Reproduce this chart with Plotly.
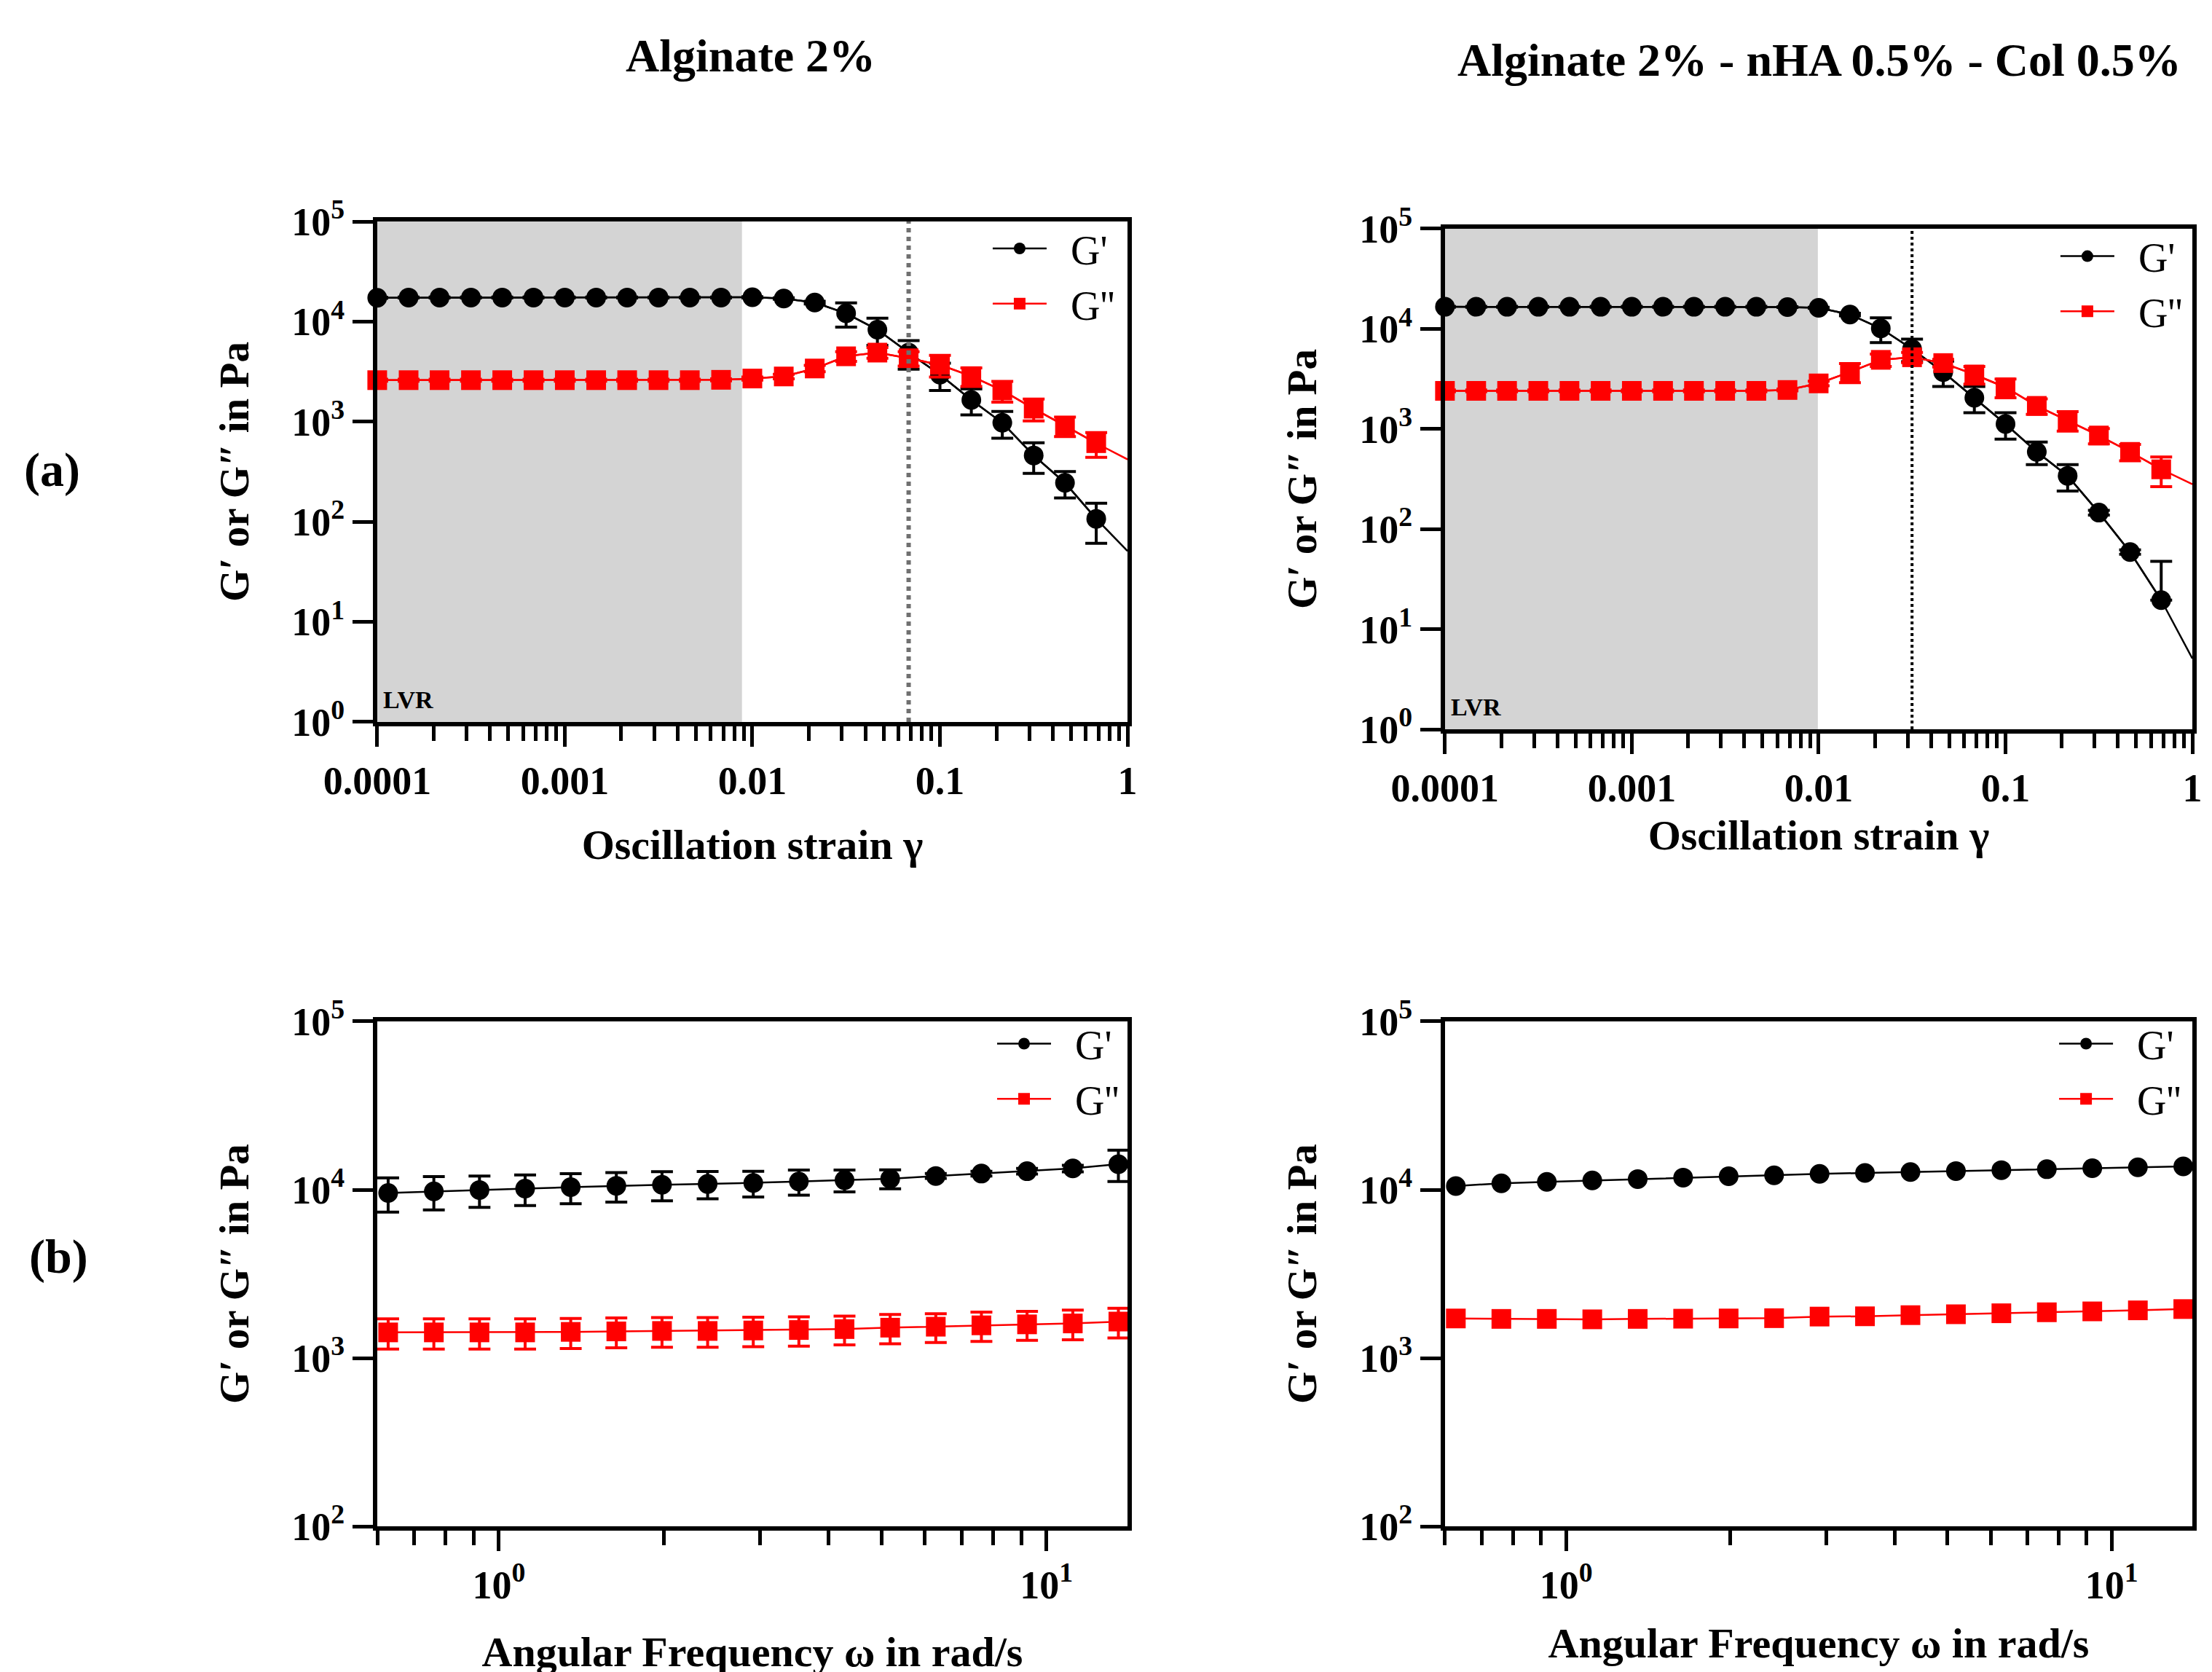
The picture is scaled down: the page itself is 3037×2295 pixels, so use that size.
import plotly.graph_objects as go

# ==================================================
# Data
# ==================================================

# amplitude sweep
strain = [0.0001, 0.000147, 0.000215, 0.000316, 0.000464, 0.000681,
          0.001, 0.00147, 0.00215, 0.00316, 0.00464, 0.00681,
          0.01, 0.0147, 0.0215, 0.0316, 0.0464, 0.0681,
          0.1, 0.147, 0.215, 0.316, 0.464, 0.681]
strain_end = 1.0

# Alginate 2%
alg_gp = [17300, 17400, 17400, 17400, 17400, 17400, 17400, 17400, 17400, 17400, 17400, 17400,
          17500, 17000, 15500, 12100, 8300, 4900, 2950, 1650, 975, 460, 245, 107]
alg_gp_err = [200, 200, 200, 200, 200, 200, 200, 200, 200, 200, 200, 200,
              250, 300, 500, 3300, 2500, 1550, 900, 480, 290, 155, 72, 46]
alg_gp_end = 51
alg_gpp = [2600, 2600, 2600, 2600, 2600, 2600, 2600, 2600, 2600, 2600, 2600, 2620,
           2700, 2830, 3400, 4500, 4900, 4300, 3700, 2850, 2050, 1350, 910, 610]
alg_gpp_err = [60, 60, 60, 60, 60, 60, 60, 60, 60, 60, 60, 60,
               100, 150, 250, 500, 600, 700, 900, 600, 480, 330, 200, 170]
alg_gpp_end = 420
alg_lvr_end = 0.0088
alg_crossover = 0.0681

# Alginate 2% - nHA 0.5% - Col 0.5%
comp_gp = [16600, 16600, 16600, 16600, 16600, 16600, 16600, 16600, 16600, 16600, 16600, 16500,
           16200, 13900, 10100, 6300, 3700, 2050, 1120, 590, 340, 146, 59, 19.5]
comp_gp_err_up = [150, 150, 150, 150, 150, 150, 150, 150, 150, 150, 150, 150,
                  200, 400, 2800, 1600, 1050, 600, 330, 150, 100, 8, 3, 28]
comp_gp_err_down = [150, 150, 150, 150, 150, 150, 150, 150, 150, 150, 150, 150,
                    200, 400, 2800, 1600, 1050, 600, 330, 150, 100, 8, 3, 0]
comp_gp_end = 5.1
comp_gpp = [2400, 2400, 2400, 2400, 2400, 2400, 2400, 2400, 2400, 2400, 2400, 2450,
            2850, 3700, 4900, 5200, 4550, 3500, 2600, 1700, 1220, 860, 590, 395]
comp_gpp_err = [50, 50, 50, 50, 50, 50, 50, 50, 50, 50, 50, 50,
                150, 800, 700, 600, 400, 700, 550, 300, 270, 150, 110, 130]
comp_gpp_end = 280
comp_lvr_end = 0.0099
comp_crossover = 0.0316

# frequency sweep
omega = [0.628, 0.761, 0.922, 1.117, 1.353, 1.639, 1.986, 2.406, 2.915,
         3.531, 4.278, 5.183, 6.279, 7.607, 9.216, 11.17, 13.53]

alg_f_gp = [9570, 9780, 9960, 10150, 10350, 10550, 10690, 10820, 10960,
            11180, 11400, 11620, 12070, 12470, 12880, 13380, 14180]
alg_f_gp_err = [2200, 2200, 2100, 2100, 2100, 2100, 2100, 2000, 1900,
                1900, 1700, 1500, 400, 400, 500, 600, 3000]
alg_f_gpp = [1420, 1420, 1420, 1420, 1430, 1439, 1448, 1448, 1458,
             1467, 1486, 1515, 1535, 1564, 1585, 1605, 1647]
alg_f_gpp_err = [290, 290, 290, 290, 290, 290, 290, 290, 290,
                 290, 290, 300, 300, 310, 310, 320, 330]

comp_f_gp = [10510, 10920, 11140, 11350, 11570, 11800, 12030, 12180, 12420,
             12580, 12740, 12910, 13070, 13240, 13410, 13580, 13760]
comp_f_gpp = [1718, 1708, 1708, 1698, 1708, 1713, 1718, 1725, 1763,
              1770, 1798, 1820, 1845, 1870, 1893, 1920, 1954]

y_strain_range = [0, 5]      # log10 -> 1 .. 1e5
y_freq_range = [2, 5]        # log10 -> 1e2 .. 1e5
x_strain_range = [-4, 0]
x_freq_range = [-0.222, 1.148]

# ==================================================
# Style
# ==================================================

SERIF = "Liberation Serif"
BLACK = "#000000"
RED = "#ff0000"
PAD = "\u00a0\u00a0"   # gap between legend symbol and label

fig = go.Figure()


def add_series(x, y, err_up, err_down, color, symbol, name, xa, ya, legend,
               x_end=None, y_end=None):

    if x_end is not None:
        fig.add_trace(
            go.Scatter(
                x=list(x) + [x_end],
                y=list(y) + [y_end],
                mode="lines",
                line=dict(color=color, width=2.5),
                xaxis=xa,
                yaxis=ya,
                showlegend=False,
                hoverinfo="skip",
            )
        )

    err = None
    if err_up is not None:
        err = dict(
            type="data",
            array=err_up,
            arrayminus=err_down,
            symmetric=False,
            color=color,
            thickness=4,
            width=15,
        )

    fig.add_trace(
        go.Scatter(
            x=x,
            y=y,
            mode="lines+markers",
            name=PAD + name,
            line=dict(color=color, width=2.5),
            marker=dict(color=color, size=27, symbol=symbol),
            error_y=err,
            cliponaxis=False,
            xaxis=xa,
            yaxis=ya,
            legend=legend,
        )
    )


# top-left: Alginate 2%, amplitude sweep
add_series(strain, alg_gp, alg_gp_err, alg_gp_err, BLACK, "circle", "G'",
           "x", "y", "legend", strain_end, alg_gp_end)
add_series(strain, alg_gpp, alg_gpp_err, alg_gpp_err, RED, "square", "G''",
           "x", "y", "legend", strain_end, alg_gpp_end)

# top-right: composite, amplitude sweep
add_series(strain, comp_gp, comp_gp_err_up, comp_gp_err_down, BLACK, "circle", "G'",
           "x2", "y2", "legend2", strain_end, comp_gp_end)
add_series(strain, comp_gpp, comp_gpp_err, comp_gpp_err, RED, "square", "G''",
           "x2", "y2", "legend2", strain_end, comp_gpp_end)

# bottom-left: Alginate 2%, frequency sweep
add_series(omega, alg_f_gp, alg_f_gp_err, alg_f_gp_err, BLACK, "circle", "G'",
           "x3", "y3", "legend3")
add_series(omega, alg_f_gpp, alg_f_gpp_err, alg_f_gpp_err, RED, "square", "G''",
           "x3", "y3", "legend3")

# bottom-right: composite, frequency sweep
add_series(omega, comp_f_gp, None, None, BLACK, "circle", "G'",
           "x4", "y4", "legend4")
add_series(omega, comp_f_gpp, None, None, RED, "square", "G''",
           "x4", "y4", "legend4")

# ==================================================
# LVR shading + crossover lines
# ==================================================

for xref, yref, x1 in [("x", "y", alg_lvr_end), ("x2", "y2", comp_lvr_end)]:
    fig.add_shape(
        type="rect",
        xref=xref,
        yref=yref + " domain",
        x0=strain[0],
        x1=x1,
        y0=0,
        y1=1,
        fillcolor="#d4d4d4",
        line=dict(width=0),
        layer="below",
    )
    fig.add_annotation(
        xref=xref + " domain",
        yref=yref + " domain",
        x=0.006,
        y=0.015,
        xanchor="left",
        yanchor="bottom",
        text="LVR",
        showarrow=False,
        font=dict(family=SERIF, size=34, color=BLACK, weight="bold"),
    )

fig.add_shape(
    type="line", xref="x", yref="y domain",
    x0=alg_crossover, x1=alg_crossover, y0=0, y1=1,
    line=dict(color="#707070", width=6, dash="dot"),
)
fig.add_shape(
    type="line", xref="x2", yref="y2 domain",
    x0=comp_crossover, x1=comp_crossover, y0=0, y1=1,
    line=dict(color=BLACK, width=4, dash="dot"),
)

# ==================================================
# Axes
# ==================================================

tick_font = dict(family=SERIF, size=54, color=BLACK, weight="bold")
title_font = dict(family=SERIF, size=58, color=BLACK, weight="bold")
ytitle_font = dict(family=SERIF, size=57, color=BLACK, weight="bold")

common = dict(
    type="log",
    automargin=False,
    showline=True,
    linecolor=BLACK,
    linewidth=6,
    mirror=True,
    ticks="outside",
    ticklen=28,
    tickwidth=5,
    tickcolor=BLACK,
    showgrid=False,
    zeroline=False,
    tickfont=tick_font,
)

strain_ticks = [0.0001, 0.001, 0.01, 0.1, 1]
strain_text = ["0.0001", "0.001", "0.01", "0.1", "1"]
y_strain_ticks = [1, 10, 100, 1000, 10000, 100000]
y_strain_text = ["10<sup>0</sup>", "10<sup>1</sup>", "10<sup>2</sup>",
                 "10<sup>3</sup>", "10<sup>4</sup>", "10<sup>5</sup>"]
y_freq_ticks = [100, 1000, 10000, 100000]
y_freq_text = ["10<sup>2</sup>", "10<sup>3</sup>", "10<sup>4</sup>", "10<sup>5</sup>"]
freq_ticks = [1, 10]
freq_text = ["10<sup>0</sup>", "10<sup>1</sup>"]

minor = dict(ticks="outside", ticklen=20, tickwidth=5, tickcolor=BLACK,
             dtick="D1", showgrid=False)

x_dom_left = [0.1679, 0.5071]
x_dom_right = [0.6506, 0.9885]

fig.update_layout(
    xaxis=dict(common, domain=x_dom_left, anchor="y", range=x_strain_range,
               tickmode="array", tickvals=strain_ticks, ticktext=strain_text,
               minor=minor,
               title=dict(text="Oscillation strain γ", font=title_font, standoff=40)),
    yaxis=dict(common, domain=[0.5717, 0.8710], anchor="x", range=y_strain_range,
               tickmode="array", tickvals=y_strain_ticks, ticktext=y_strain_text,
               title=dict(text="G′ or G″ in Pa", font=ytitle_font, standoff=42)),
    xaxis2=dict(common, domain=x_dom_right, anchor="y2", range=x_strain_range,
                tickmode="array", tickvals=strain_ticks, ticktext=strain_text,
                minor=minor,
                title=dict(text="Oscillation strain γ", font=title_font, standoff=17)),
    yaxis2=dict(common, domain=[0.5673, 0.8667], anchor="x2", range=y_strain_range,
                tickmode="array", tickvals=y_strain_ticks, ticktext=y_strain_text,
                title=dict(text="G′ or G″ in Pa", font=ytitle_font, standoff=42)),
    xaxis3=dict(common, domain=x_dom_left, anchor="y3", range=x_freq_range,
                tickmode="array", tickvals=freq_ticks, ticktext=freq_text,
                minor=minor,
                title=dict(text="Angular Frequency ω in rad/s", font=title_font, standoff=44)),
    yaxis3=dict(common, domain=[0.0906, 0.3926], anchor="x3", range=y_freq_range,
                tickmode="array", tickvals=y_freq_ticks, ticktext=y_freq_text,
                title=dict(text="G′ or G″ in Pa", font=ytitle_font, standoff=42)),
    xaxis4=dict(common, domain=x_dom_right, anchor="y4", range=x_freq_range,
                tickmode="array", tickvals=freq_ticks, ticktext=freq_text,
                minor=minor,
                title=dict(text="Angular Frequency ω in rad/s", font=title_font, standoff=32)),
    yaxis4=dict(common, domain=[0.0906, 0.3926], anchor="x4", range=y_freq_range,
                tickmode="array", tickvals=y_freq_ticks, ticktext=y_freq_text,
                title=dict(text="G′ or G″ in Pa", font=ytitle_font, standoff=42)),
)

# ==================================================
# Legends
# ==================================================

legend_font = dict(family=SERIF, size=56, color=BLACK)


def legend_box(x, y):
    return dict(
        x=x, y=y, xanchor="left", yanchor="top",
        xref="paper", yref="paper",
        font=legend_font,
        bgcolor="rgba(0,0,0,0)",
        tracegroupgap=0,
        itemwidth=74,
        itemclick=False,
    )


fig.update_layout(
    legend=legend_box(0.4445, 0.8736),
    legend2=legend_box(0.9272, 0.869),
    legend3=legend_box(0.4465, 0.398),
    legend4=legend_box(0.9266, 0.398),
)

# ==================================================
# Titles / panel labels
# ==================================================

head_font = dict(family=SERIF, size=64, color=BLACK, weight="bold")
W, H = 3037, 2295

panel_text = [
    ("Alginate 2%", 1022, 68, 64),
    ("Alginate 2% - nHA 0.5% - Col 0.5%", 2490, 74, 64),
    ("(a)", 64, 637, 66),
    ("(b)", 72, 1717, 66),
]
for text, px, py, size in panel_text:
    fig.add_annotation(
        xref="paper", yref="paper",
        x=px / W, y=1 - py / H,
        xanchor="center", yanchor="middle",
        text=text, showarrow=False,
        font=dict(head_font, size=size),
    )

fig.update_layout(
    width=W,
    height=H,
    margin=dict(l=0, r=0, t=0, b=0),
    paper_bgcolor="white",
    plot_bgcolor="white",
    font=dict(family=SERIF, color=BLACK),
)

fig.write_html("out.html")
